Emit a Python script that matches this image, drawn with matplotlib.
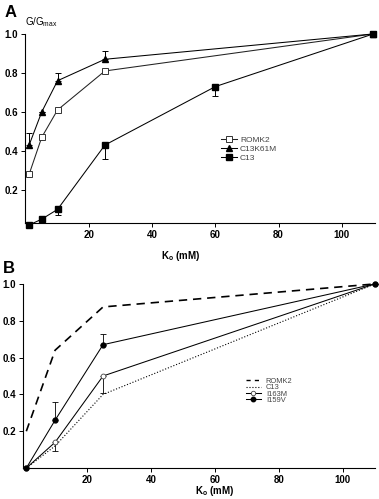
import matplotlib
matplotlib.use("Agg")
import matplotlib.pyplot as plt
from matplotlib.lines import Line2D

plt.rcParams['font.family'] = ['Liberation Sans', 'DejaVu Sans']
plt.rcParams['mathtext.fontset'] = 'custom'
plt.rcParams['mathtext.rm'] = 'Liberation Sans'
plt.rcParams['mathtext.bf'] = 'Liberation Sans:bold'

# panel A data
ko_a = [1, 5, 10, 25, 110]
romk2_a = [0.28, 0.47, 0.61, 0.81, 1.0]
k61m_a = [0.43, 0.60, 0.76, 0.87, 1.0]
k61m_err = [0.06, 0.0, 0.04, 0.04, 0.0]
ko_c13_a = [1, 5, 10, 25, 60, 110]
c13_a = [0.02, 0.05, 0.10, 0.43, 0.73, 1.0]
c13_err = [0.0, 0.0, 0.03, 0.07, 0.05, 0.0]

# panel B data
ko_b = [1, 10, 25, 110]
romk2_b = [0.2, 0.64, 0.875, 1.0]
c13_b = [0.0, 0.12, 0.40, 1.0]
i163m_b = [0.0, 0.14, 0.50, 1.0]
i163m_err = [0.0, 0.045, 0.09, 0.0]
i159v_b = [0.0, 0.26, 0.67, 1.0]
i159v_err = [0.0, 0.10, 0.06, 0.0]

fig = plt.figure(figsize=(3.79, 4.99), dpi=100)
axA = fig.add_axes([0.066, 0.553, 0.923, 0.379])
axB = fig.add_axes([0.061, 0.062, 0.928, 0.369])

for ax in (axA, axB):
    ax.spines['top'].set_visible(False)
    ax.spines['right'].set_visible(False)
    ax.spines['left'].set_linewidth(0.8)
    ax.spines['bottom'].set_linewidth(0.8)
    ax.tick_params(direction='out', length=3, width=0.7, pad=2, labelsize=7)
    ax.set_xticks([20, 40, 60, 80, 100])
    ax.set_yticks([0.2, 0.4, 0.6, 0.8, 1.0])
    ax.set_yticklabels(['0.2', '0.4', '0.6', '0.8', '1.0'])
    for lab in ax.get_xticklabels() + ax.get_yticklabels():
        lab.set_fontweight('bold')

# ---- A ----
lw = 0.75
axA.plot(ko_a, romk2_a, '-', color='#222222', lw=lw, marker='s', ms=4.5,
         mfc='white', mec='#333333', mew=0.7, clip_on=False, zorder=3)
axA.errorbar(ko_a, k61m_a, yerr=[[0] * 5, k61m_err], fmt='-^', color='black', lw=lw,
             ms=4.5, elinewidth=0.7, capsize=2.5, capthick=0.7,
             clip_on=False, zorder=3)
axA.errorbar(ko_c13_a, c13_a, yerr=[c13_err, [0] * 6], fmt='-s', color='black', lw=lw,
             ms=4.5, elinewidth=0.7, capsize=2.5, capthick=0.7,
             clip_on=False, zorder=3)
axA.set_xlim(-0.3, 110.5)
axA.set_ylim(0.03, 1.0)
axA.set_xlabel(r'K$_\mathbf{o}$ (mM)', fontsize=7, fontweight='bold')
axA.xaxis.set_label_coords(0.446, -0.135)
handlesA = [
    Line2D([], [], color='#222222', lw=lw, marker='s', ms=4, mfc='white', mec='#333333', mew=0.7),
    Line2D([], [], color='black', lw=lw, marker='^', ms=4),
    Line2D([], [], color='black', lw=lw, marker='s', ms=4),
]
legA = axA.legend(handlesA, ['ROMK2', 'C13K61M', 'C13'], loc='upper left',
                  bbox_to_anchor=(0.583, 0.728), bbox_transform=fig.transFigure,
                  frameon=False, fontsize=6, handlelength=1.9, handletextpad=0.4,
                  labelspacing=0.15, borderpad=0, borderaxespad=0)
for t in legA.get_texts():
    t.set_color('#444444')

# ---- B ----
axB.plot(ko_b, romk2_b, color='black', lw=1.2, linestyle=(0, (5, 3.5)), clip_on=False)
axB.plot(ko_b, c13_b, color='black', lw=0.8, linestyle=':', clip_on=False)
axB.errorbar(ko_b, i163m_b, yerr=[i163m_err, [0] * 4], fmt='-o', color='black', lw=lw,
             ms=3.5, mfc='white', mec='#444444', mew=0.6, elinewidth=0.6,
             capsize=2.5, capthick=0.6, clip_on=False, zorder=3)
axB.errorbar(ko_b, i159v_b, yerr=[[0] * 4, i159v_err], fmt='-o', color='black', lw=lw,
             ms=3.5, elinewidth=0.6, capsize=2.5, capthick=0.6,
             clip_on=False, zorder=3)
axB.set_xlim(0, 110)
axB.set_ylim(0, 1.0)
axB.set_xlabel(r'K$_\mathbf{o}$ (mM)', fontsize=7, fontweight='bold')
axB.xaxis.set_label_coords(0.545, -0.085)
handlesB = [
    Line2D([], [], color='black', lw=1.0, linestyle=(0, (3, 3))),
    Line2D([], [], color='black', lw=0.8, linestyle=':'),
    Line2D([], [], color='black', lw=lw, marker='o', ms=3.2, mfc='white', mec='#444444', mew=0.6),
    Line2D([], [], color='black', lw=lw, marker='o', ms=3.2),
]
legB = axB.legend(handlesB, ['ROMK2', 'C13', 'I163M', 'I159V'], loc='upper left',
                  bbox_to_anchor=(0.648, 0.243), bbox_transform=fig.transFigure,
                  frameon=False, fontsize=5.4, handlelength=2.0, handletextpad=0.7,
                  labelspacing=-0.12, borderpad=0, borderaxespad=0)
for t in legB.get_texts():
    t.set_color('#444444')

fig.text(0.066, 0.955, r'G/G$_{\mathrm{max}}$', fontsize=7, va='center', ha='left')
fig.text(0.012, 0.99, 'A', fontsize=12, fontweight='bold', va='top', ha='left')
fig.text(0.008, 0.477, 'B', fontsize=12, fontweight='bold', va='top', ha='left')

fig.savefig('out.png', dpi=100)
